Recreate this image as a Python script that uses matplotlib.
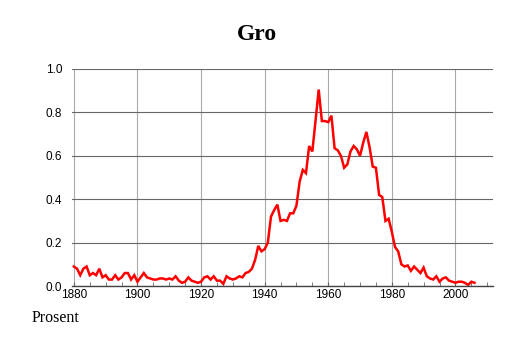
import matplotlib.pyplot as plt
import numpy as np
from matplotlib.ticker import MultipleLocator

years = np.arange(1880, 2007)
values = [
    0.09, 0.08, 0.05, 0.08, 0.09, 0.05, 0.06, 0.05, 0.08, 0.04,   # 1880s
    0.05, 0.03, 0.03, 0.05, 0.03, 0.04, 0.06, 0.06, 0.03, 0.05,   # 1890s
    0.02, 0.04, 0.06, 0.04, 0.035, 0.03, 0.03, 0.035, 0.035, 0.03,  # 1900s
    0.035, 0.03, 0.045, 0.025, 0.015, 0.02, 0.04, 0.025, 0.02, 0.015,  # 1910s
    0.02, 0.04, 0.045, 0.03, 0.045, 0.025, 0.025, 0.01, 0.045, 0.035,  # 1920s
    0.03, 0.035, 0.045, 0.04, 0.06, 0.065, 0.08, 0.12, 0.185, 0.16,   # 1930s
    0.17, 0.2, 0.32, 0.35, 0.375, 0.3, 0.305, 0.3, 0.335, 0.335,    # 1940s
    0.37, 0.48, 0.535, 0.52, 0.645, 0.62, 0.76, 0.905, 0.76, 0.76,  # 1950s
    0.755, 0.785, 0.635, 0.625, 0.6, 0.545, 0.56, 0.62, 0.645, 0.63,  # 1960s
    0.6, 0.66, 0.71, 0.64, 0.55, 0.545, 0.42, 0.41, 0.3, 0.31,     # 1970s
    0.25, 0.18, 0.16, 0.1, 0.09, 0.095, 0.07, 0.09, 0.075, 0.06,    # 1980s
    0.085, 0.045, 0.035, 0.03, 0.045, 0.02, 0.035, 0.04, 0.025, 0.02,  # 1990s
    0.015, 0.02, 0.02, 0.015, 0.005, 0.02, 0.015,                 # 2000s
]

title = "Gro"
ylabel_text = "Prosent"

fig = plt.figure(figsize=(5.14, 3.43), dpi=100)
ax = fig.add_axes([0.140, 0.166, 0.819, 0.633])

ax.plot(years, values, color='#ff0000', lw=1.8, solid_joinstyle='miter')

ax.set_xlim(1879.4, 2011.8)
ax.set_ylim(0, 1.0)
ax.xaxis.set_major_locator(MultipleLocator(20))
ax.xaxis.set_minor_locator(MultipleLocator(5))
ax.set_yticks(np.arange(0, 1.01, 0.2))
ax.set_yticklabels([f"{v:.1f}" for v in np.arange(0, 1.01, 0.2)])

for s in ['top', 'right', 'left']:
    ax.spines[s].set_visible(False)
ax.spines['bottom'].set_color('#444444')
ax.spines['bottom'].set_linewidth(1.0)

ax.grid(axis='y', color='#666666', lw=0.8)
ax.grid(axis='x', color='#aaaaaa', lw=0.8)
ax.set_axisbelow(True)

ax.tick_params(axis='x', which='both', direction='in', length=3, color='#666666',
               labelsize=8.5, pad=2)
ax.tick_params(axis='y', length=0, labelsize=8.5, pad=7)
for lab in ax.get_xticklabels() + ax.get_yticklabels():
    lab.set_family('Liberation Sans')

fig.text(0.5, 0.90, title, ha='center', va='center', fontsize=17,
         fontweight='bold', family='Liberation Serif')
fig.text(0.062, 0.073, ylabel_text, ha='left', va='center', fontsize=11.5,
         family='Liberation Serif')

fig.savefig('out.png', dpi=100)
